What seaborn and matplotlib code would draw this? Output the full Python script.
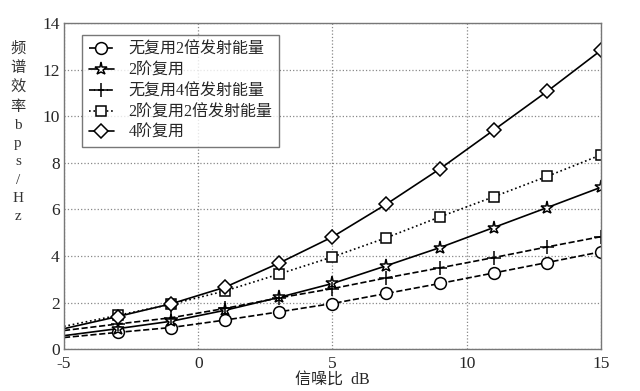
import matplotlib
matplotlib.use("Agg")
import matplotlib.pyplot as plt
import seaborn as sns
import pandas as pd

snr = [-5, -3, -1, 1, 3, 5, 7, 9, 11, 13, 15]
noreuse_2x = [0.5, 0.72, 0.93, 1.25, 1.6, 1.96, 2.39, 2.82, 3.27, 3.72, 4.18]
reuse2 = [0.58, 0.88, 1.2, 1.67, 2.22, 2.82, 3.58, 4.36, 5.22, 6.08, 6.95]
noreuse_4x = [0.8, 1.08, 1.35, 1.75, 2.2, 2.6, 3.06, 3.49, 3.93, 4.39, 4.83]
reuse2_2x = [0.98, 1.45, 1.93, 2.5, 3.22, 3.96, 4.78, 5.68, 6.54, 7.42, 8.34]
reuse4 = [0.88, 1.4, 1.95, 2.66, 3.69, 4.82, 6.22, 7.74, 9.4, 11.07, 12.83]

labels = ["无复用2倍发射能量", "2阶复用", "无复用4倍发射能量", "2阶复用2倍发射能量", "4阶复用"]
markers = ["o", "*", "+", "s", "D"]
styles = ["--", "-", "--", ":", "-"]
series = [noreuse_2x, reuse2, noreuse_4x, reuse2_2x, reuse4]
sizes = [8.5, 9.5, 10, 7.5, 7.5]

sns.set_style("white")
plt.rcParams["font.family"] = ["Liberation Serif", "Noto Sans CJK SC"]
plt.rcParams["axes.unicode_minus"] = False

fig = plt.figure(figsize=(6.4, 3.91), dpi=100)
ax = fig.add_axes([0.1, 0.107, 0.839, 0.834])

for lab, mk, ls, ys, ms in zip(labels, markers, styles, series, sizes):
    df = pd.DataFrame({"x": snr, "y": ys})
    sns.lineplot(data=df, x="x", y="y", ax=ax, color="black", linestyle=ls,
                 marker=mk, markersize=ms, markerfacecolor="white",
                 markeredgecolor="black", markeredgewidth=1.1, linewidth=1.2,
                 markevery=list(range(1, len(snr))), label=lab)

ax.set_xlim(-5, 15)
ax.set_ylim(0, 14)
ax.set_xticks([-5, 0, 5, 10, 15])
ax.set_yticks(range(0, 15, 2))
ax.grid(True, linestyle=":", color="#888888", linewidth=0.9)
for s in ax.spines.values():
    s.set_color("#777777")
    s.set_linewidth(1.0)
ax.tick_params(axis="both", direction="in", length=4, labelsize=12.5, color="#777777")
ax.tick_params(axis="x", pad=5)
ax.tick_params(axis="y", pad=3)
ax.set_xlabel("信噪比  dB", fontsize=11.5, labelpad=0)
ax.set_ylabel("")
fig.text(0.028, 0.895, "\n".join("频谱效率bps/Hz"), fontsize=11, ha="center", va="top",
         linespacing=1.52, color="#333333")

leg = ax.legend(loc="upper left", bbox_to_anchor=(0.034, 0.962), fontsize=11.5,
                frameon=True, fancybox=False, edgecolor="#555555", handlelength=1.6,
                borderpad=0.4, labelspacing=0.3, handletextpad=0.9, borderaxespad=0)
leg.get_frame().set_linewidth(1.0)

fig.savefig("out.png", dpi=100)
